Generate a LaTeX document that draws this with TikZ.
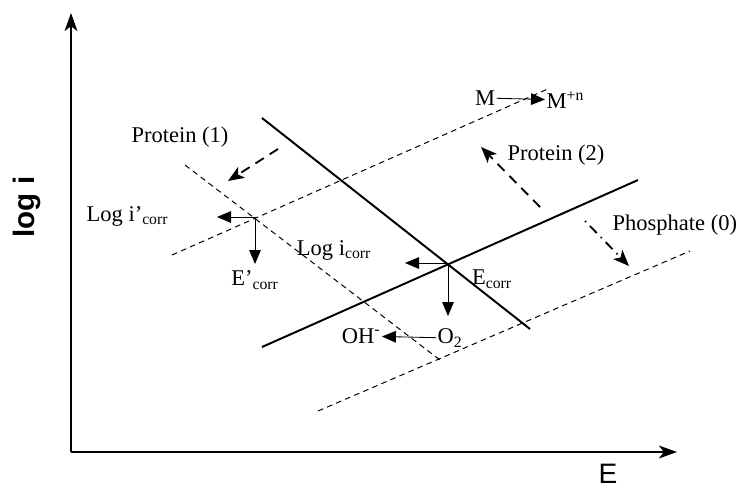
\documentclass[tikz,border=0pt]{standalone}
\usepackage{fontspec}
\setmainfont{Liberation Serif}
\newfontfamily\axisfont{Liberation Sans}
\usetikzlibrary{arrows.meta,positioning,calc}
\tikzset{
  axisline/.style={line width=1.4pt,-{Stealth[length=4.5mm,width=3.2mm,inset=1.2mm]}},
  tafel/.style={line width=1.4pt},
  shifted/.style={line width=0.7pt,dash pattern=on 4pt off 3pt},
  readout/.style={line width=0.6pt,-{Triangle[length=3.5mm,width=2.9mm]}},
  shiftarrow/.style={line width=1.3pt,dash pattern=on 7pt off 5pt,-{Stealth[length=4mm,width=3.2mm,inset=1mm]}}
}
\begin{document}
\begin{tikzpicture}[x=0.025cm,y=-0.025cm,every node/.style={font=\fontsize{16}{18}\selectfont,inner sep=1pt}]
\useasboundingbox (0,0) rectangle (742,488);
% axes
\coordinate (O) at (71,452);
\coordinate (ytip) at (71,13);
\coordinate (xtip) at (677,452);
\draw[axisline] (O)--(ytip);
\draw[axisline] (O)--(xtip);
\node[font=\axisfont\bfseries\fontsize{21}{22}\selectfont,rotate=90] (logi) at (27,207) {log i};
\node[font=\axisfont\fontsize{20}{22}\selectfont] (E) at (608,474) {E};
% polarization lines
\coordinate (an1) at (262,118); \coordinate (an2) at (530,329);
\coordinate (ca1) at (262,347); \coordinate (ca2) at (638,180);
\draw[tafel] (an1)--(an2);
\draw[tafel] (ca1)--(ca2);
\coordinate (up1) at (172,255); \coordinate (up2) at (550,88);
\coordinate (lo1) at (318,411); \coordinate (lo2) at (690,251);
\coordinate (dn1) at (185,165); \coordinate (dn2) at (440,360);
\draw[shifted] (up1)--(up2);
\draw[shifted] (lo1)--(lo2);
\draw[shifted] (dn1)--(dn2);
% corrosion points
\coordinate (Ecorr) at (448,263);
\coordinate (Epcorr) at (255,217);
\coordinate (icl) at (405,263); \coordinate (ecd) at (448,316);
\coordinate (ipl) at (217,217); \coordinate (epd) at (255,264);
\draw[readout] (Ecorr)--(icl);
\draw[readout] (Ecorr)--(ecd);
\draw[readout] (Epcorr)--(ipl);
\draw[readout] (Epcorr)--(epd);
\node[anchor=east] (lipc) at (170,216) {Log i’\textsubscript{corr}};
\node (epc) at (255,280) {E’\textsubscript{corr}};
\node (lic) at (334,250) {Log i\textsubscript{corr}};
\node (ec) at (492,279) {E\textsubscript{corr}};
% reactions
\node (M) at (485,98) {M};
\node[anchor=west] (Mn) at (545,100) {M\textsuperscript{+n}};
\draw[readout] (M)--(Mn);
\node (O2) at (450,338) {O\textsubscript{2}};
\node (OH) at (361,336) {OH\textsuperscript{-}};
\draw[readout] (O2)--(OH);
% shifts
\node (prot1) at (180,137) {Protein (1)};
\coordinate (p1s) at (278,149); \coordinate (p1e) at (228,181);
\draw[shiftarrow] (p1s)--(p1e);
\node (prot2) at (556,155) {Protein (2)};
\coordinate (p2s) at (540,207); \coordinate (p2e) at (481,147);
\draw[shiftarrow] (p2s)--(p2e);
\node[anchor=west] (phos) at (611,225) {Phosphate (0)};
\coordinate (phs) at (585,221); \coordinate (phe) at (629,266);
\draw[shiftarrow,dash pattern=on 1pt off 4pt on 7pt off 4pt] (phs)--(phe);
\end{tikzpicture}
\end{document}
